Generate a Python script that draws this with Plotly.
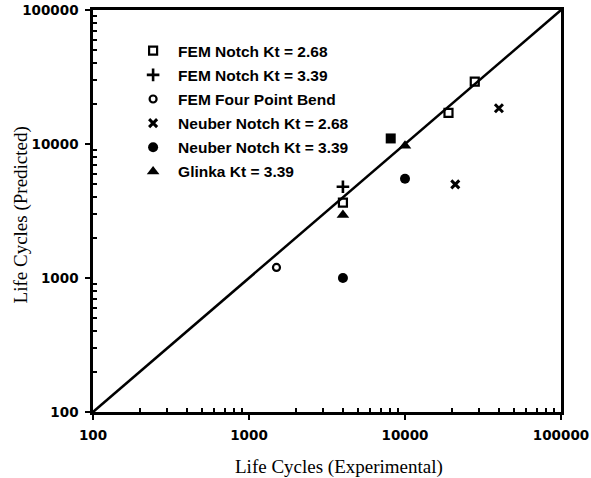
import plotly.graph_objects as go

# ---- data ----
FEM_268_X = [4000, 19000, 28000]
FEM_268_Y = [3650, 17100, 29200]
FEM_268_FILLED_X = [8100]
FEM_268_FILLED_Y = [11000]
FEM_339_X = [4000]
FEM_339_Y = [4800]
FEM_4PB_X = [1500]
FEM_4PB_Y = [1200]
NEUBER_268_X = [21000, 40000]
NEUBER_268_Y = [5000, 18500]
NEUBER_339_X = [4000, 10000]
NEUBER_339_Y = [1000, 5500]
GLINKA_X = [4000, 10000]
GLINKA_Y = [2950, 9700]
DIAG = [100, 100000]
TICKS = [100, 1000, 10000, 100000]
TICK_TEXT = ["100", "1000", "10000", "100000"]
MINOR_TICKS = [m * d for d in (100, 1000, 10000) for m in range(2, 10)]
X_TITLE = "Life Cycles (Experimental)"
Y_TITLE = "Life Cycles (Predicted)"

fig = go.Figure()

fig.add_trace(go.Scatter(x=DIAG, y=DIAG, mode="lines", line=dict(color="black", width=2.5),
                         showlegend=False, hoverinfo="skip"))

def add(name, xs, ys, symbol, size, lw=0, group=None, show=True):
    fig.add_trace(go.Scatter(
        x=xs, y=ys, mode="markers", name=name, showlegend=show,
        legendgroup=group or name,
        marker=dict(symbol=symbol, size=size, color="black",
                    line=dict(color="black", width=lw))))

add("FEM Notch Kt = 2.68", FEM_268_X, FEM_268_Y, "square-open", 8, 2.2)
add("FEM Notch Kt = 3.39", FEM_339_X, FEM_339_Y, "cross-thin", 9, 2.6)
add("FEM Four Point Bend", FEM_4PB_X, FEM_4PB_Y, "circle-open", 7, 2.2)
add("Neuber Notch Kt = 2.68", NEUBER_268_X, NEUBER_268_Y, "x-thin", 8, 3)
add("Neuber Notch Kt = 3.39", NEUBER_339_X, NEUBER_339_Y, "circle", 10, 0)
add("Glinka Kt = 3.39", GLINKA_X, GLINKA_Y, "triangle-up", 11, 0)
add("FEM Notch Kt = 2.68 ", FEM_268_FILLED_X, FEM_268_FILLED_Y, "square", 10, 0,
    group="FEM Notch Kt = 2.68", show=False)

tickfont = dict(family="DejaVu Sans", size=13.5, color="black", weight="bold")
axis_common = dict(
    type="log", range=[2, 5], tickmode="array", tickvals=TICKS, ticktext=TICK_TEXT,
    ticks="outside", ticklen=5, tickwidth=2, tickcolor="black", automargin=False,
    showline=True, linecolor="black", linewidth=2.5, mirror=True,
    showgrid=False, zeroline=False, tickfont=tickfont,
    minor=dict(tickmode="array", tickvals=MINOR_TICKS, ticks="inside", ticklen=4,
               tickwidth=1.5, tickcolor="black", showgrid=False),
)

fig.update_xaxes(**axis_common, ticklabelstandoff=4)
fig.update_yaxes(**axis_common, ticklabelstandoff=4)

title_font = dict(family="Liberation Serif", size=19, color="#000000")
fig.add_annotation(text=X_TITLE, xref="paper", yref="paper", x=0.526, y=-0.137,
                   xanchor="center", yanchor="middle", showarrow=False, font=title_font)
fig.add_annotation(text=Y_TITLE, xref="paper", yref="paper", x=-0.153, y=0.49,
                   xanchor="center", yanchor="middle", showarrow=False, textangle=-90,
                   font=title_font)

fig.update_layout(
    width=591, height=478,
    margin=dict(l=93, r=30, t=10, b=66),
    paper_bgcolor="white", plot_bgcolor="white",
    showlegend=True,
    legend=dict(x=0.075, y=0.94, xanchor="left", yanchor="top", itemwidth=40,
                bgcolor="rgba(0,0,0,0)", tracegroupgap=1,
                font=dict(family="Liberation Sans", size=15.5, color="black", weight="bold")),
)

fig.write_html("out.html")
